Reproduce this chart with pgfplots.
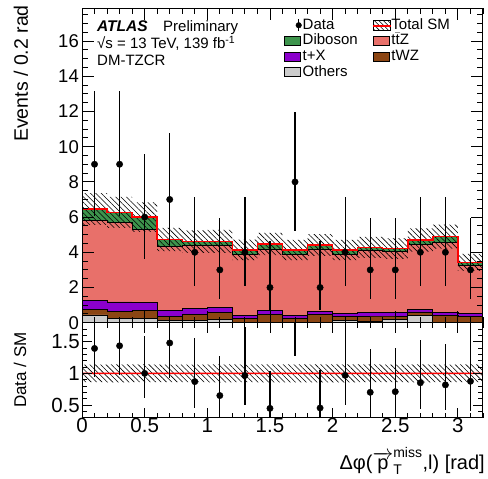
\documentclass[border=0pt]{standalone}
\usepackage{fontspec}
\setmainfont{Liberation Sans}
\usepackage{pgfplots}
\pgfplotsset{compat=1.18}
\usepackage{pgfplotstable}
\usepgfplotslibrary{fillbetween}
\usetikzlibrary{patterns.meta}
\tikzset{fill between/on layer=main}

\definecolor{dibcol}{RGB}{61,148,76}
\definecolor{ttzcol}{RGB}{232,112,106}
\definecolor{txcol}{RGB}{139,0,204}
\definecolor{twzcol}{RGB}{139,69,19}
\definecolor{othcol}{RGB}{204,204,204}

% Expected yields per 0.2 rad bin (left edge); the last row closes the final step
\pgfplotstableread{
x    oth   twz   tx    ttz   dib   unc
0.0  0.44  0.32  0.49  4.55  0.66  0.90
0.2  0.25  0.38  0.55  4.52  0.57  0.88
0.4  0.25  0.47  0.42  4.16  0.70  0.84
0.6  0.11  0.27  0.30  3.64  0.41  0.66
0.8  0.11  0.38  0.31  3.57  0.23  0.64
1.0  0.19  0.38  0.30  3.50  0.25  0.65
1.2  0.02  0.21  0.19  3.44  0.28  0.58
1.4  0.02  0.47  0.19  3.51  0.28  0.63
1.6  0.02  0.25  0.15  3.48  0.23  0.58
1.8  0.03  0.46  0.16  3.54  0.22  0.62
2.0  0.11  0.23  0.19  3.37  0.23  0.58
2.2  0.06  0.32  0.19  3.53  0.18  0.60
2.4  0.19  0.19  0.19  3.46  0.19  0.59
2.6  0.42  0.19  0.15  3.71  0.23  0.66
2.8  0.03  0.39  0.15  3.99  0.33  0.68
3.0  0.03  0.35  0.15  2.71  0.19  0.48
3.2  0.03  0.35  0.15  2.71  0.19  0.48
}\bins

% Observed events at bin centres, Poisson 68% intervals, and the SM total
\pgfplotstableread{
xc   n  ep    em    sm
0.1  9  4.15  2.94  6.46
0.3  9  4.15  2.94  6.27
0.5  6  3.58  2.38  6.00
0.7  7  3.77  2.58  4.73
0.9  4  3.16  1.91  4.60
1.1  3  2.92  1.63  4.62
1.3  4  3.16  1.91  4.14
1.5  2  2.64  1.29  4.47
1.7  8  3.95  2.77  4.13
1.9  2  2.64  1.29  4.41
2.1  4  3.16  1.91  4.13
2.3  3  2.92  1.63  4.28
2.5  3  2.92  1.63  4.22
2.7  4  3.16  1.91  4.70
2.9  4  3.16  1.91  4.89
3.1  3  2.92  1.63  3.43
}\obs

\newcommand{\cumA}{\thisrow{oth}}
\newcommand{\cumB}{(\thisrow{oth}+\thisrow{twz})}
\newcommand{\cumC}{(\thisrow{oth}+\thisrow{twz}+\thisrow{tx})}
\newcommand{\cumD}{(\thisrow{oth}+\thisrow{twz}+\thisrow{tx}+\thisrow{ttz})}
\newcommand{\tot}{(\thisrow{oth}+\thisrow{twz}+\thisrow{tx}+\thisrow{ttz}+\thisrow{dib})}

\pgfplotsset{
  atlasframe/.style={
    scale only axis, width=401pt, xmin=0, xmax=3.2,
    axis line style={line width=1pt},
    every tick/.style={line width=0.9pt, black},
    tick align=inside, xtick pos=both, ytick pos=both,
    xtick={0,0.5,1,1.5,2,2.5,3},
    minor xtick={0,0.1,...,3.2},
    /pgf/number format/assume math mode=true,
    axis on top,
  },
  hatchband/.style={pattern={Lines[angle=-45,distance=3.8pt,line width=0.6pt]}, draw=none},
  boxlegend/.style={legend image code/.code={
    \draw[fill=#1,draw=black,line width=0.8pt] (0pt,-4.5pt) rectangle (16pt,4.5pt);}},
}

\begin{document}
\begin{tikzpicture}

% ---------- main panel ----------
\begin{axis}[atlasframe,
  at={(82pt,156.3pt)}, anchor=south west,
  height=314.4pt, ymin=0, ymax=17.86,
  xticklabels={},
  ytick={0,2,4,6,8,10,12,14,16},
  minor ytick={0,0.5,...,17.5},
  major tick length=12pt, minor tick length=6pt,
  yticklabel style={font=\fontsize{18.5}{18.5}\selectfont, inner sep=0pt, xshift=-3pt},
  legend style={at={(axis description cs:0.504,0.969)}, anchor=north west, draw=none, fill=none,
    font=\fontsize{15}{15}\selectfont, inner sep=0pt, row sep=1.7pt,
    nodes={inner ysep=0pt, inner xsep=1pt, text height=11pt, text depth=3pt},
    /tikz/every even column/.append style={column sep=14pt}},
  legend columns=2, legend cell align=left,
]
\addplot[const plot, fill=dibcol, draw=black, line width=0.8pt, forget plot]
  table[x=x, y expr=\tot] {\bins} \closedcycle;
\addplot[const plot, fill=ttzcol, draw=black, line width=0.8pt, forget plot]
  table[x=x, y expr=\cumD] {\bins} \closedcycle;
\addplot[const plot, fill=txcol, draw=black, line width=0.8pt, forget plot]
  table[x=x, y expr=\cumC] {\bins} \closedcycle;
\addplot[const plot, fill=twzcol, draw=black, line width=0.8pt, forget plot]
  table[x=x, y expr=\cumB] {\bins} \closedcycle;
\addplot[const plot, fill=othcol, draw=black, line width=0.8pt, forget plot]
  table[x=x, y expr=\cumA] {\bins} \closedcycle;

\addplot[const plot, draw=none, name path=hiband, forget plot]
  table[x=x, y expr=\tot+\thisrow{unc}] {\bins};
\addplot[const plot, draw=none, name path=loband, forget plot]
  table[x=x, y expr=\tot-\thisrow{unc}] {\bins};
\addplot[hatchband, forget plot] fill between[of=hiband and loband];

\addplot[const plot, draw=red, line width=1.5pt, forget plot]
  table[x=x, y expr=\tot] {\bins};

\addplot[only marks, mark=*, mark size=3.2pt, black, forget plot,
  error bars/.cd, y dir=both, y explicit, error mark=none,
  error bar style={line width=1.3pt, black}]
  table[x=xc, y=n, y error plus=ep, y error minus=em] {\obs};

% legend, column by column: Data, Diboson, t+X, Others | Total SM, ttZ, tWZ
\addlegendimage{legend image code/.code={
  \draw[black,line width=1.3pt] (14pt,-6pt)--(14pt,6pt);
  \fill[black] (14pt,0pt) circle (2.8pt);}}
\addlegendentry{Data}
\addlegendimage{legend image code/.code={
  \fill[pattern={Lines[angle=-45,distance=3.2pt,line width=0.6pt]}] (0pt,-5pt) rectangle (17pt,5pt);
  \fill[red] (0pt,-1.3pt) rectangle (17pt,0.2pt);}}
\addlegendentry{Total SM}
\addlegendimage{boxlegend=dibcol}
\addlegendentry{Diboson}
\addlegendimage{boxlegend=ttzcol}
\addlegendentry{t\ensuremath{\bar{\mbox{t}}}Z}
\addlegendimage{boxlegend=txcol}
\addlegendentry{t+X}
\addlegendimage{boxlegend=twzcol}
\addlegendentry{tWZ}
\addlegendimage{boxlegend=othcol}
\addlegendentry{Others}
\end{axis}

% ---------- ratio panel ----------
\begin{axis}[atlasframe,
  at={(82pt,61.3pt)}, anchor=south west,
  height=95pt, ymin=0.3, ymax=1.8,
  ytick={0.5,1,1.5},
  minor ytick={0.3,0.4,...,1.8},
  major tick length=10pt, minor tick length=5pt,
  clip marker paths=true,
  yticklabel style={font=\fontsize{20.5}{20.5}\selectfont, inner sep=0pt, xshift=-2pt},
  xticklabel style={font=\fontsize{20.5}{20.5}\selectfont, inner sep=0pt},
]
\addplot[const plot, draw=none, name path=rhi, forget plot]
  table[x=x, y expr=1+\thisrow{unc}/\tot] {\bins};
\addplot[const plot, draw=none, name path=rlo, forget plot]
  table[x=x, y expr=1-\thisrow{unc}/\tot] {\bins};
\addplot[hatchband, forget plot] fill between[of=rhi and rlo];
% unit line, drawn as a thin filled strip
\addplot[const plot, draw=none, name path=uhi, forget plot]
  table[x=x, y expr=1.012] {\bins};
\addplot[const plot, draw=none, name path=ulo, forget plot]
  table[x=x, y expr=0.988] {\bins};
\addplot[fill=red, draw=none, forget plot] fill between[of=uhi and ulo];
\addplot[only marks, mark=*, mark size=3.2pt, black, forget plot,
  error bars/.cd, y dir=both, y explicit, error mark=none,
  error bar style={line width=1.3pt, black}]
  table[x=xc, y expr=\thisrow{n}/\thisrow{sm},
        y error plus expr=\thisrow{ep}/\thisrow{sm},
        y error minus expr=\thisrow{em}/\thisrow{sm}] {\obs};
\end{axis}

% ---------- labels ----------
\node[rotate=90, anchor=east, font=\fontsize{19.5}{19.5}\selectfont, inner sep=0pt]
  at (21pt,474pt) {Events / 0.2 rad};
\node[rotate=90, font=\fontsize{17}{17}\selectfont, inner sep=0pt]
  at (20pt,109pt) {Data / SM};
\node[anchor=base east, font=\fontsize{20}{20}\selectfont, inner sep=0pt] at (485pt,9.7pt)
  {Δφ(\ensuremath{\overrightarrow{\mbox{p}}^{\mbox{\fontsize{14}{14}\selectfont miss}}_{\mbox{\fontsize{14}{14}\selectfont T}}},l) [rad]};

\node[anchor=base west, font=\fontsize{15.5}{15.5}\selectfont\bfseries\itshape, inner sep=0pt]
  at (97pt,447pt) {ATLAS};
\node[anchor=base west, font=\fontsize{15}{15}\selectfont, inner sep=0pt]
  at (163pt,447pt) {Preliminary};
\node[anchor=base west, font=\fontsize{15}{15}\selectfont, inner sep=0pt]
  at (97pt,430pt) {√s = 13 TeV, 139 fb\textsuperscript{-1}};
\node[anchor=base west, font=\fontsize{15}{15}\selectfont, inner sep=0pt]
  at (97pt,413pt) {DM-TZCR};

% fixed page frame
\pgfresetboundingbox
\path[use as bounding box] (0,0) rectangle (488pt,479pt);
\end{tikzpicture}
\end{document}
